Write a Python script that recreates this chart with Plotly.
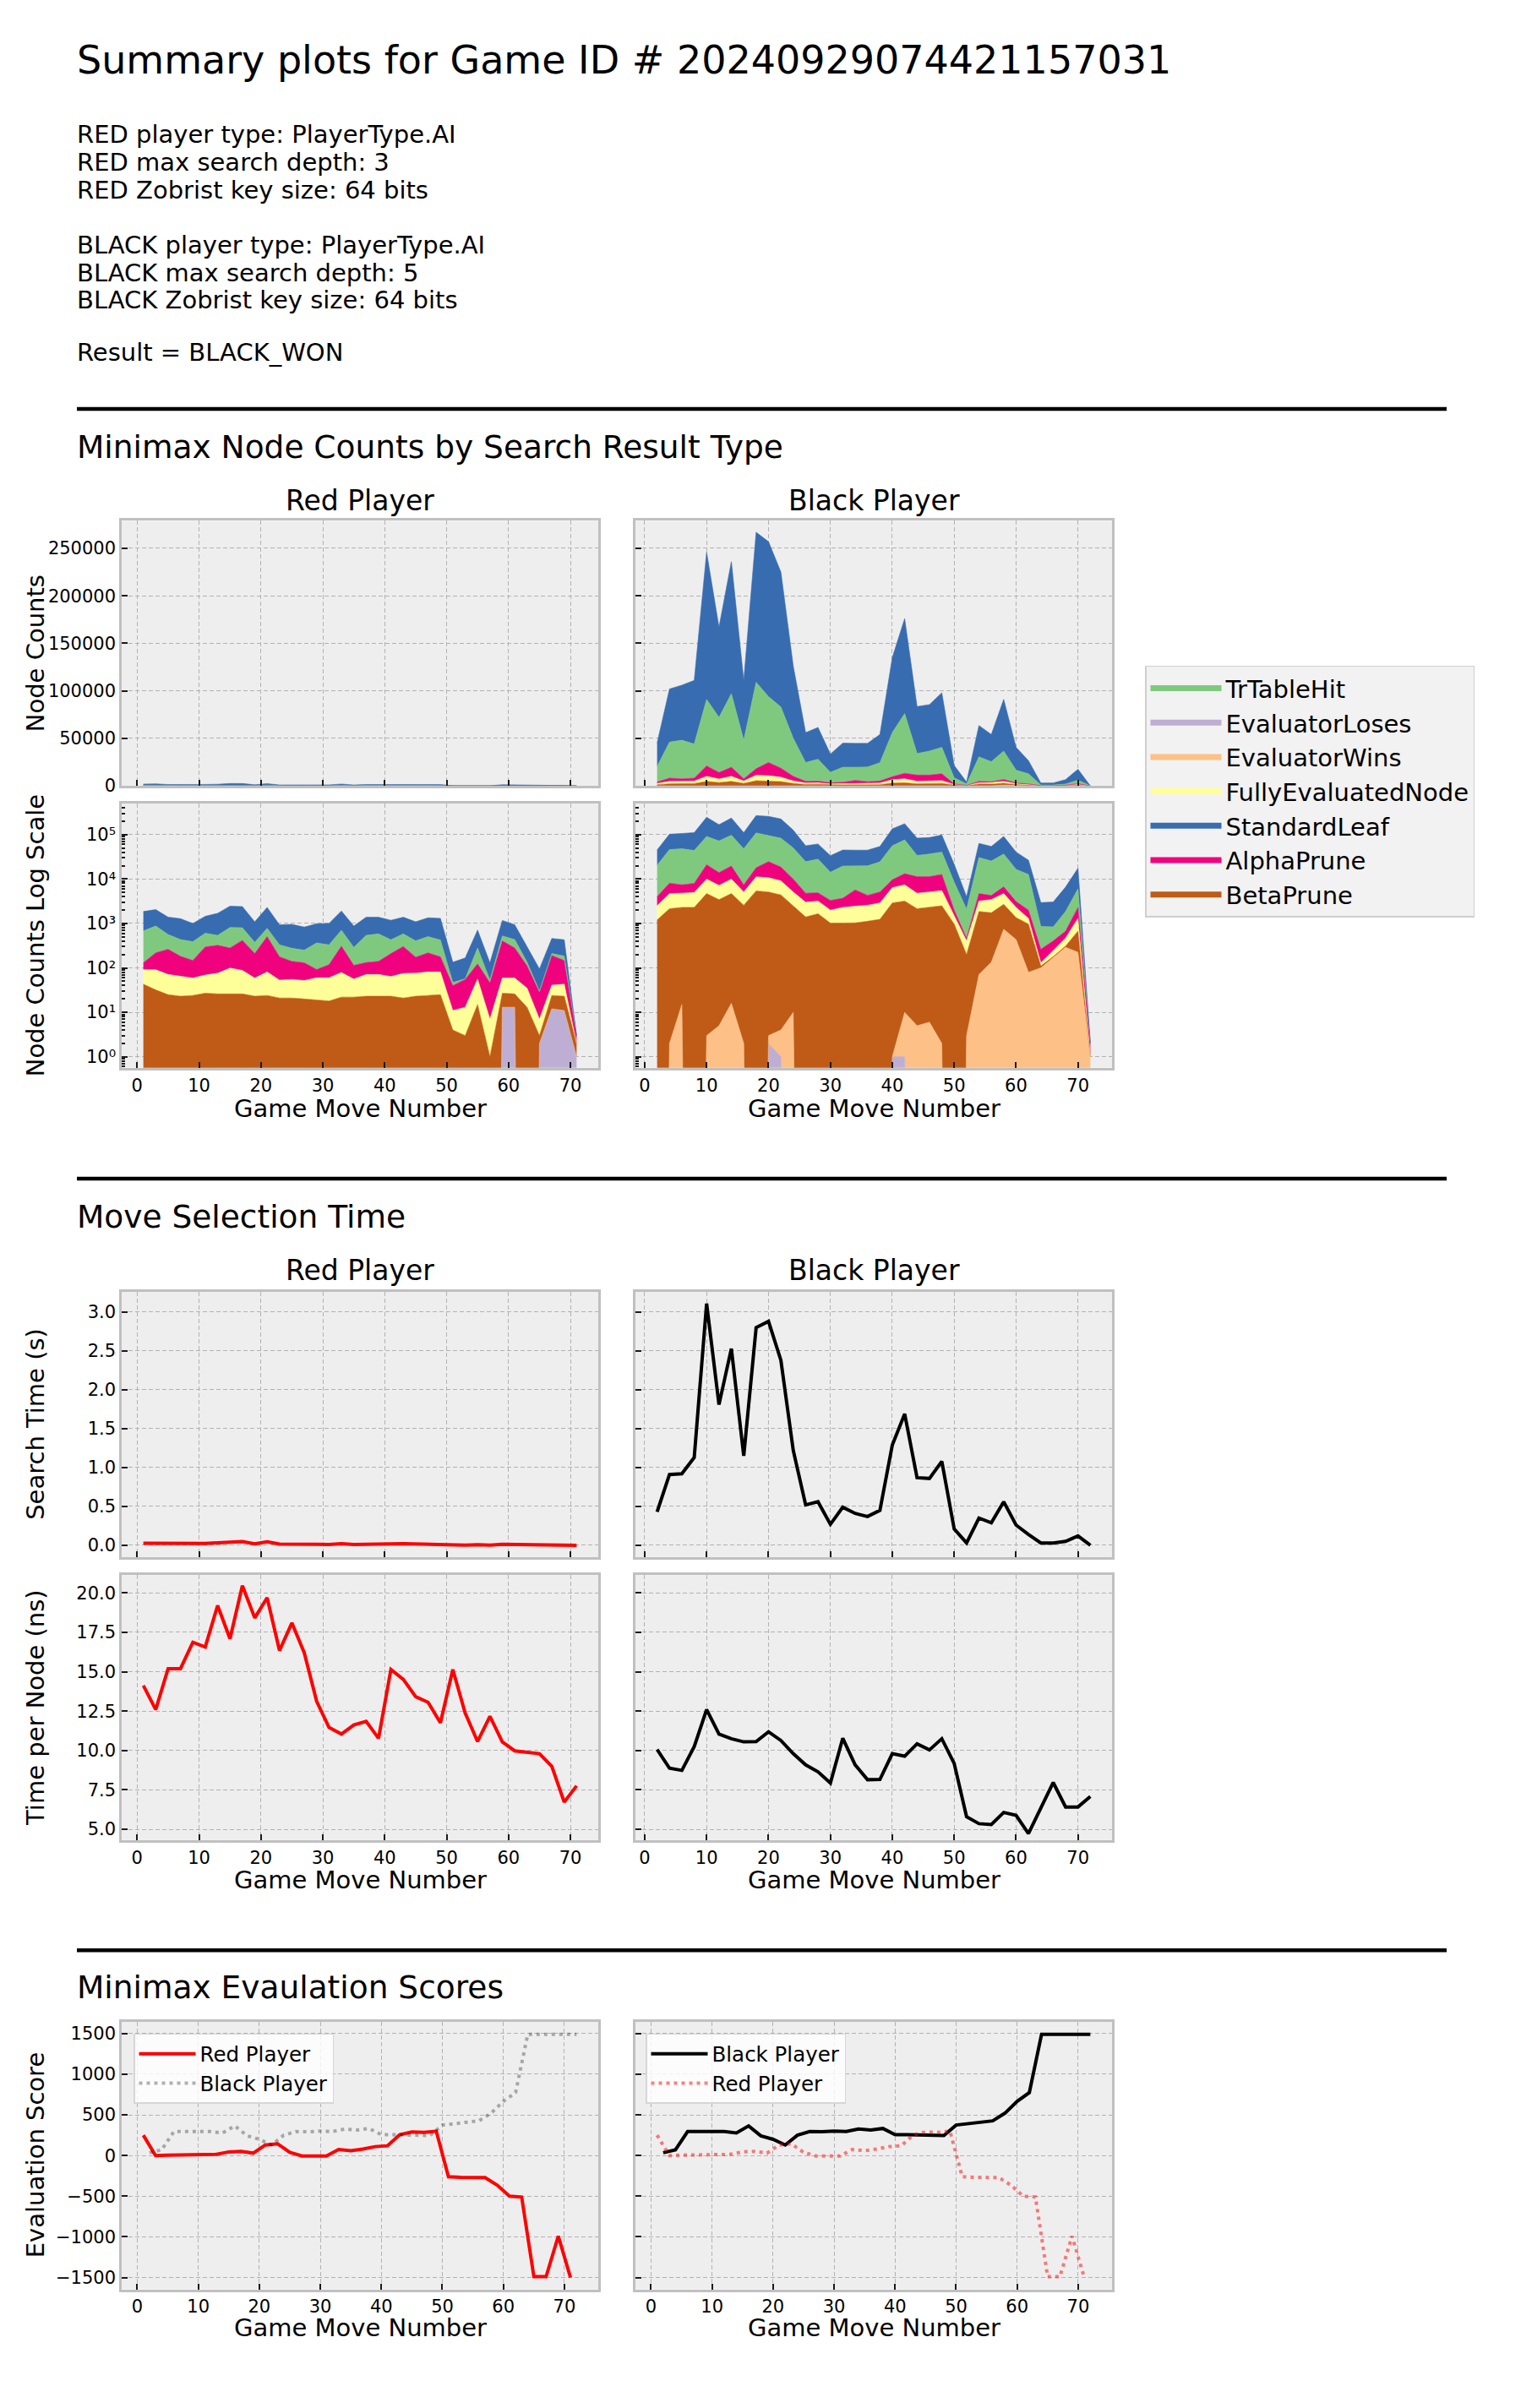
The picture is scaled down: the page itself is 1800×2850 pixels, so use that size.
import plotly.graph_objects as go

W, H = 1800, 2850
FONT = "DejaVu Sans"

# ---------------- data ----------------
red_moves = list(range(1, 72, 2))
black_moves = list(range(2, 73, 2))
move_ticks = [0, 10, 20, 30, 40, 50, 60, 70]

# stack order bottom -> top (as drawn)
stack_order = ["EvaluatorLoses", "EvaluatorWins", "BetaPrune", "FullyEvaluatedNode",
               "AlphaPrune", "TrTableHit", "StandardLeaf"]
legend_order = ["TrTableHit", "EvaluatorLoses", "EvaluatorWins", "FullyEvaluatedNode",
                "StandardLeaf", "AlphaPrune", "BetaPrune"]
colors = {
    "TrTableHit": "#7fc97f",
    "EvaluatorLoses": "#beaed4",
    "EvaluatorWins": "#fdc086",
    "FullyEvaluatedNode": "#ffff99",
    "StandardLeaf": "#386cb0",
    "AlphaPrune": "#f0027f",
    "BetaPrune": "#bf5b17",
}

red_standard_leaf = [1180, 1170, 825, 845, 610, 845, 1150, 1635, 1600, 715, 1510, 600, 678, 580, 620, 670,
                     1195, 585, 840, 795, 750, 795, 685, 835, 875, 87, 110, 430, 77, 645, 505, 165, 65, 250, 245, 0]
red_tr_table_hit = [550, 662, 302, 253, 243, 308, 218, 535, 383, 165, 275, 152, 137, 120, 273, 212,
                    397, 176, 408, 445, 220, 282, 231, 287, 247, 7, 2, 157, 7, 120, 155, 25, 2, 20, 38, 0]
red_alpha_prune = [39, 127, 192, 118, 88, 228, 246, 181, 329, 151, 424, 125, 85, 78, 32, 58,
                   229, 58, 61, 69, 146, 228, 98, 137, 97, 29, 42, 67, 39, 346, 221, 75, 21, 149, 104, 1]
red_fully_evaluated = [48, 59, 46, 41, 35, 42, 50, 73, 62, 36, 57, 32, 34, 32, 41, 42,
                       57, 34, 48, 48, 41, 54, 53, 57, 56, 7, 10, 41, 6, 32, 33, 22, 4, 17, 20, 0]
red_beta_prune = [43, 32, 25, 23, 24, 27, 26, 26, 26, 23, 24, 21, 21, 20, 19, 18,
                  22, 22, 23, 23, 23, 21, 23, 24, 25, 4, 3, 15, 1, 14, 13, 13, 1, 12, 12, 1]
red_evaluator_wins = [0] * 36
red_evaluator_loses = [0, 0, 0, 0, 0, 0, 0, 0, 0, 0, 0, 0, 0, 0, 0, 0,
                       0, 0, 0, 0, 0, 0, 0, 0, 0, 0, 0, 0, 0, 13, 13, 0, 2, 12, 11, 1]

black_standard_leaf = [24600, 56000, 58000, 67000, 155000, 95000, 139000, 63000, 158000, 163000, 142000, 76000,
                       31400, 33500, 19300, 25400, 25100, 24900, 29600, 79000, 100000, 49500, 48900, 57400,
                       13000, 1900, 33000, 28500, 54400, 24000, 13800, 2080, 2200, 4730, 11500, 0]
black_tr_table_hit = [16400, 37900, 40600, 36000, 70000, 58000, 77400, 40600, 91000, 69400, 64400, 40000,
                      19800, 23100, 10900, 15900, 13900, 15500, 19300, 46400, 62800, 22700, 25300, 27900,
                      6500, 1635, 25800, 21240, 29900, 13400, 10700, 597, 435, 1200, 3700, 0]
black_alpha_prune = [1500, 3400, 2600, 3000, 11000, 6800, 9600, 2300, 6800, 13900, 9500, 4900,
                     1800, 1700, 1300, 1400, 3250, 1730, 2200, 3200, 5800, 6500, 6200, 7200,
                     500, 60, 1500, 810, 2000, 800, 700, 133, 160, 200, 1000, 1]
black_fully_evaluated = [1300, 2550, 2500, 2700, 5300, 3750, 5300, 2530, 5800, 5600, 4700, 2600,
                         1600, 1540, 980, 1280, 1420, 1450, 1660, 3500, 4200, 2650, 2800, 3000,
                         530, 205, 1340, 1710, 2000, 950, 330, 20, 65, 160, 630, 0]
black_beta_prune = [1200, 2148, 2285, 2300, 4697, 3445, 4684, 2568, 5400, 5097, 4396, 2490,
                    1400, 1660, 1020, 1020, 1030, 1120, 1240, 2899, 3190, 2145, 2294, 2498,
                    970, 197, 1789, 1605, 1960, 915, 890, 10, 10, 20, 445, 0]
black_evaluator_wins = [0, 2, 15, 0, 3, 5, 16, 2, 0, 1, 3, 10,
                        0, 0, 0, 0, 0, 0, 0, 0, 9, 5, 6, 2,
                        0, 3, 71, 135, 740, 435, 80, 100, 170, 290, 225, 1]
black_evaluator_loses = [0, 0, 0, 0, 0, 0, 0, 0, 0, 2, 1, 0,
                         0, 0, 0, 0, 0, 0, 0, 1, 1, 0, 0, 0,
                         0, 0, 0, 0, 0, 0, 0, 0, 0, 0, 0, 0]

red_search_time = [0.026, 0.026, 0.021, 0.019, 0.017, 0.024, 0.032, 0.042, 0.049, 0.020, 0.045, 0.015,
                   0.017, 0.013, 0.013, 0.011, 0.021, 0.010, 0.016, 0.015, 0.018, 0.020, 0.015, 0.017,
                   0.015, 0.002, 0.002, 0.007, 0.002, 0.012, 0.009, 0.003, 0.001, 0.004, 0.003, 0.000]
black_search_time = [0.43, 0.91, 0.92, 1.13, 3.11, 1.81, 2.53, 1.15, 2.80, 2.88, 2.38, 1.22,
                     0.52, 0.56, 0.27, 0.49, 0.41, 0.37, 0.45, 1.29, 1.69, 0.87, 0.86, 1.08,
                     0.21, 0.03, 0.35, 0.29, 0.56, 0.26, 0.14, 0.03, 0.03, 0.05, 0.12, 0.0]

red_time_per_node = [14.13, 12.6, 15.2, 15.2, 16.87, 16.57, 19.2, 17.1, 20.46, 18.42, 19.7, 16.35,
                     18.1, 16.2, 13.13, 11.46, 11.05, 11.62, 11.85, 10.78, 15.14, 14.52, 13.42, 13.06,
                     11.76, 15.14, 12.38, 10.57, 12.17, 10.55, 9.98, 9.89, 9.8, 9.0, 6.73, 7.76]
black_time_per_node = [10.07, 8.88, 8.74, 10.25, 12.6, 11.05, 10.75, 10.55, 10.57, 11.19, 10.64, 9.8,
                       9.09, 8.65, 7.94, 10.78, 9.09, 8.15, 8.17, 9.8, 9.64, 10.43, 10.04, 10.75,
                       9.18, 5.8, 5.36, 5.3, 6.07, 5.89, 4.73, 6.33, 7.97, 6.42, 6.42, 7.08]

red_eval_score = [250, 0, 5, 5, 5, 8, 15, 45, 52, 30, 130, 145, 40, -5, -5, -5, 75, 60, 80, 110, 120,
                  255, 290, 285, 300, -260, -268, -270, -270, -365, -500, -510, -1490, -1490, -990, -1500]
black_eval_score = [35, 70, 295, 295, 295, 295, 278, 365, 243, 200, 130, 250, 295, 292, 302, 295, 326,
                    313, 333, 257, 257, 254, 243, 246, 375, 389, 403, 427, 521, 667, 774, 1490, 1490,
                    1490, 1490, 1490]

red_counts = {
    "StandardLeaf": red_standard_leaf, "TrTableHit": red_tr_table_hit, "AlphaPrune": red_alpha_prune,
    "FullyEvaluatedNode": red_fully_evaluated, "BetaPrune": red_beta_prune,
    "EvaluatorWins": red_evaluator_wins, "EvaluatorLoses": red_evaluator_loses,
}
black_counts = {
    "StandardLeaf": black_standard_leaf, "TrTableHit": black_tr_table_hit, "AlphaPrune": black_alpha_prune,
    "FullyEvaluatedNode": black_fully_evaluated, "BetaPrune": black_beta_prune,
    "EvaluatorWins": black_evaluator_wins, "EvaluatorLoses": black_evaluator_loses,
}

info_lines = [
    ("RED player type: PlayerType.AI", 160),
    ("RED max search depth: 3", 193),
    ("RED Zobrist key size: 64 bits", 226),
    ("BLACK player type: PlayerType.AI", 291),
    ("BLACK max search depth: 5", 324),
    ("BLACK Zobrist key size: 64 bits", 357),
    ("Result = BLACK_WON", 419),
]

# ---------------- layout geometry (pixels) ----------------
COL_L = (144, 708)
COL_R = (752, 1316)
ROW_LIN = (619, 934)
ROW_LOG = (955, 1269)
ROW_TIME = (1535, 1851)
ROW_TPN = (1872, 2187)
ROW_EVAL = (2403, 2721)


def px_x(p):
    return p / W


def px_y(p):
    return 1 - p / H


def dom_x(c):
    return [c[0] / W, c[1] / W]


def dom_y(r):
    return [1 - r[1] / H, 1 - r[0] / H]


fig = go.Figure()
EPS = 1e-20


def add_stack(ax, moves, counts, log):
    xa, ya = "x" + ax, "y" + ax
    base = [EPS if log else 0 for _ in moves]
    fig.add_trace(go.Scatter(x=moves, y=base, mode="lines", line=dict(width=0, color="rgba(0,0,0,0)"),
                             xaxis=xa, yaxis=ya, showlegend=False, hoverinfo="skip"))
    cum = [0] * len(moves)
    for cat in stack_order:
        cum = [c + v for c, v in zip(cum, counts[cat])]
        ys = [max(c, EPS) for c in cum] if log else list(cum)
        fig.add_trace(go.Scatter(x=moves, y=ys, mode="lines", fill="tonexty", fillcolor=colors[cat],
                                 line=dict(width=0.6, color=colors[cat]), xaxis=xa, yaxis=ya,
                                 showlegend=False, name=cat, hoverinfo="x+name"))


add_stack("", red_moves, red_counts, False)
add_stack("2", black_moves, black_counts, False)
add_stack("3", red_moves, red_counts, True)
add_stack("4", black_moves, black_counts, True)

LW = 4
DOT = "4px,5px"
# search time
fig.add_trace(go.Scatter(x=red_moves, y=red_search_time, mode="lines", line=dict(color="red", width=LW),
                         xaxis="x5", yaxis="y5", showlegend=False))
fig.add_trace(go.Scatter(x=black_moves, y=black_search_time, mode="lines", line=dict(color="black", width=LW),
                         xaxis="x6", yaxis="y6", showlegend=False))
# time per node
fig.add_trace(go.Scatter(x=red_moves, y=red_time_per_node, mode="lines", line=dict(color="red", width=LW),
                         xaxis="x7", yaxis="y7", showlegend=False))
fig.add_trace(go.Scatter(x=black_moves, y=black_time_per_node, mode="lines", line=dict(color="black", width=LW),
                         xaxis="x8", yaxis="y8", showlegend=False))
# evaluation scores
fig.add_trace(go.Scatter(x=red_moves, y=red_eval_score, mode="lines", name="Red Player",
                         line=dict(color="red", width=LW), xaxis="x9", yaxis="y9", legend="legend2"))
fig.add_trace(go.Scatter(x=black_moves, y=black_eval_score, mode="lines", name="Black Player",
                         line=dict(color="rgba(0,0,0,0.3)", width=LW, dash=DOT),
                         xaxis="x9", yaxis="y9", legend="legend2"))
fig.add_trace(go.Scatter(x=black_moves, y=black_eval_score, mode="lines", name="Black Player",
                         line=dict(color="black", width=LW), xaxis="x10", yaxis="y10", legend="legend3"))
fig.add_trace(go.Scatter(x=red_moves, y=red_eval_score, mode="lines", name="Red Player",
                         line=dict(color="rgba(255,0,0,0.5)", width=LW, dash=DOT),
                         xaxis="x10", yaxis="y10", legend="legend3"))

# legend entries for node types
for cat in legend_order:
    fig.add_trace(go.Scatter(x=[None], y=[None], mode="lines", name=cat, legendgroup=cat,
                             line=dict(color=colors[cat], width=7), xaxis="x", yaxis="y", legend="legend"))

# ---------------- axes ----------------
TICK_SIZE = 21


def base_axis():
    return dict(showgrid=True, gridcolor="#b2b2b2", griddash="5px,3px", gridwidth=1, zeroline=False,
                showline=True, linecolor="#c0c0c0", linewidth=2.5, mirror=True,
                ticks="inside", ticklen=7, tickwidth=2, tickcolor="#1a1a1a",
                tickfont=dict(size=TICK_SIZE, family=FONT, color="black"))


layout_axes = {}
cells = {
    1: (COL_L, ROW_LIN), 2: (COL_R, ROW_LIN), 3: (COL_L, ROW_LOG), 4: (COL_R, ROW_LOG),
    5: (COL_L, ROW_TIME), 6: (COL_R, ROW_TIME), 7: (COL_L, ROW_TPN), 8: (COL_R, ROW_TPN),
    9: (COL_L, ROW_EVAL), 10: (COL_R, ROW_EVAL),
}
red_xr = [-2.5, 74.5]
black_xr = [-1.5, 75.5]
eval_xr = [-2.55, 75.55]

log_major = [1, 10, 100, 1000, 10000, 100000]
log_text = ["10\u2070", "10\u00b9", "10\u00b2", "10\u00b3", "10\u2074", "10\u2075"]
log_minor = [m * 10 ** d for d in range(-1, 6) for m in range(2, 10)]

for i, (c, r) in cells.items():
    xs = "" if i == 1 else str(i)
    xa = base_axis()
    xa.update(domain=dom_x(c), anchor="y" + xs, tickmode="array", tickvals=move_ticks,
              ticktext=[str(t) for t in move_ticks])
    if i in (9, 10):
        xa["range"] = eval_xr
    elif i % 2 == 1:
        xa["range"] = red_xr
    else:
        xa["range"] = black_xr
    if i in (1, 2, 5, 6):
        xa["showticklabels"] = False
    ya = base_axis()
    ya.update(domain=dom_y(r), anchor="x" + xs)
    if i in (1, 2):
        ya.update(range=[0, 279000], tickmode="array", tickvals=[0, 50000, 100000, 150000, 200000, 250000],
                  tickformat="d")
    elif i in (3, 4):
        ya.update(type="log", range=[-0.246, 5.70], tickmode="array", tickvals=log_major, ticktext=log_text,
                  minor=dict(tickmode="array", tickvals=log_minor, ticks="inside", ticklen=4,
                             tickwidth=1.5, tickcolor="#1a1a1a", showgrid=False))
    elif i in (5, 6):
        ya.update(range=[-0.155, 3.265], tickmode="linear", tick0=0, dtick=0.5, tickformat=".1f")
    elif i in (7, 8):
        ya.update(range=[4.32, 21.14], tickmode="linear", tick0=5, dtick=2.5, tickformat=".1f")
    else:
        ya.update(range=[-1645, 1645], tickmode="linear", tick0=0, dtick=500, tickformat="d")
    if i % 2 == 0:
        ya["showticklabels"] = False
    layout_axes["xaxis" + xs] = xa
    layout_axes["yaxis" + xs] = ya

# ---------------- texts ----------------
ann = []


def text(t, x, y, size, xanchor="left", angle=0):
    ann.append(dict(text=t, x=px_x(x), y=px_y(y), xref="paper", yref="paper", showarrow=False,
                    xanchor=xanchor, yanchor="middle", textangle=angle,
                    font=dict(size=size, family=FONT, color="black")))


text("Summary plots for Game ID # 20240929074421157031", 89, 71, 46)
for line, yy in info_lines:
    text(line, 89, yy, 29)
text("Minimax Node Counts by Search Result Type", 89, 531, 37.5)
text("Move Selection Time", 89, 1446, 37.5)
text("Minimax Evaulation Scores", 89, 2362, 37.5)
for yy in (595, 1510):
    text("Red Player", (COL_L[0] + COL_L[1]) / 2, yy, 33, "center")
    text("Black Player", (COL_R[0] + COL_R[1]) / 2, yy, 33, "center")
for yy in (1318, 2234, 2767):
    text("Game Move Number", (COL_L[0] + COL_L[1]) / 2, yy, 29, "center")
    text("Game Move Number", (COL_R[0] + COL_R[1]) / 2, yy, 29, "center")
for t, r in (("Node Counts", ROW_LIN), ("Node Counts Log Scale", ROW_LOG), ("Search Time (s)", ROW_TIME),
             ("Time per Node (ns)", ROW_TPN), ("Evaluation Score", ROW_EVAL)):
    text(t, 42, (r[0] + r[1]) / 2, 29, "center", -90)

shapes = []
for yy in (486, 1401, 2318):
    shapes.append(dict(type="line", xref="paper", yref="paper", x0=px_x(91), x1=px_x(1712),
                       y0=px_y(yy), y1=px_y(yy), line=dict(color="black", width=4.5)))

fig.update_layout(
    width=W, height=H, autosize=False,
    margin=dict(l=0, r=0, t=0, b=0),
    paper_bgcolor="white", plot_bgcolor="#eeeeee",
    font=dict(family=FONT, color="black"),
    annotations=ann, shapes=shapes,
    legend=dict(x=px_x(1355), y=px_y(791), xanchor="left", yanchor="top",
                bgcolor="#f2f2f2", bordercolor="#cfcfcf", borderwidth=1.5, itemwidth=84,
                font=dict(size=29, family=FONT, color="black"), tracegroupgap=5, traceorder="normal"),
    legend2=dict(x=px_x(158), y=px_y(2417), xanchor="left", yanchor="top", itemwidth=67,
                 bgcolor="rgba(255,255,255,0.8)", bordercolor="#d6d6d6", borderwidth=1.5,
                 font=dict(size=24.5, family=FONT, color="black")),
    legend3=dict(x=px_x(764), y=px_y(2417), xanchor="left", yanchor="top", itemwidth=67,
                 bgcolor="rgba(255,255,255,0.8)", bordercolor="#d6d6d6", borderwidth=1.5,
                 font=dict(size=24.5, family=FONT, color="black")),
    showlegend=True,
    **layout_axes,
)

fig.write_html(
    "out.html",
    config={"displayModeBar": False},
    post_script="document.documentElement.style.margin='0px';document.body.style.margin='0px';"
                "document.body.style.padding='0px';",
)
